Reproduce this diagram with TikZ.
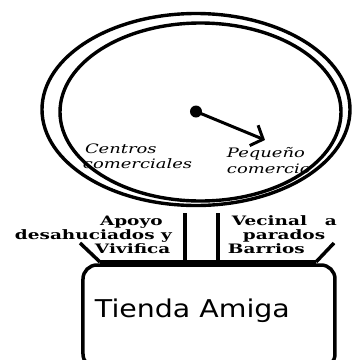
\documentclass[tikz,border=0pt]{standalone}
\usepackage{fontspec}
\usepackage{graphicx}
\usetikzlibrary{arrows.meta}
\newfontfamily\handfont{DejaVu Serif}
\newfontfamily\labelfont{DejaVu Serif}
\newfontfamily\titlefont{DejaVu Sans}
\newcommand{\cursivetxt}[1]{\scalebox{1.38}[1]{\handfont\itshape\fontsize{13}{15}\selectfont #1}}
\newcommand{\standtxt}[1]{\scalebox{1.42}[1]{\labelfont\bfseries\fontsize{13}{15}\selectfont #1}}
\newcommand{\titletxt}[1]{\scalebox{1.16}[1]{\titlefont\fontsize{24.5}{28}\selectfont #1}}
\tikzset{
  ring/.style={line width=3.4pt},
  pole/.style={line width=3.5pt},
  bar/.style={line width=4.5pt},
  txt/.style={anchor=base west, inner sep=0pt, outer sep=0pt},
  boxshape/.style={line width=3.5pt, rounded corners=14pt},
  pointer/.style={line width=3pt, -{Straight Barb[length=10pt,width=22pt]}}
}
\begin{document}
\begin{tikzpicture}[x=1pt,y=-1pt]
\useasboundingbox (0,0) rectangle (358,360);
\fill[white] (0,0) rectangle (358,360);
% ellipses
\draw[ring] (196,109.5) ellipse [x radius=154, y radius=96];
\draw[ring] (200.5,112) ellipse [x radius=140.5, y radius=89];
% pointer
\coordinate (hub) at (196,111.5);
\coordinate (tip) at (265,140);
\fill (hub) circle[radius=6];
\draw[pointer] (hub) -- (tip);
% texts in the dial
\node[txt] (c1) at (85,153) {\cursivetxt{Centros}};
\node[txt] (c2) at (83,168) {\cursivetxt{comerciales}};
\node[txt] (p1) at (227,157) {\cursivetxt{Pequeño}};
\node[txt] (p2) at (227,173) {\cursivetxt{comercio}};
% stand
\coordinate (pl1) at (185,213);
\coordinate (pl2) at (185,263);
\coordinate (pr1) at (218,213);
\coordinate (pr2) at (218,263);
\draw[pole] (pl1) -- (pl2);
\draw[pole] (pr1) -- (pr2);
\coordinate (bl) at (100,262);
\coordinate (br) at (316,262);
\coordinate (dl) at (80,243);
\coordinate (dr) at (334,243);
\draw[bar] (bl) -- (br);
\draw[pole] (bl) -- (dl);
\draw[pole] (br) -- (dr);
% stand labels
\node[txt] (a1) at (100,225) {\standtxt{Apoyo}};
\node[txt] (a2) at (15,239) {\standtxt{desahuciados y}};
\node[txt] (a3) at (95,253) {\standtxt{Vivifica}};
\node[txt] (v1) at (232,225) {\standtxt{Vecinal}};
\node[txt] (v1b) at (325,225) {\standtxt{a}};
\node[txt] (v2) at (243,239) {\standtxt{parados}};
\node[txt] (v3) at (228,253) {\standtxt{Barrios}};
% box
\draw[boxshape] (83,265) rectangle (335,368);
\node[txt] (tienda) at (95,317) {\titletxt{Tienda Amiga}};
\end{tikzpicture}
\end{document}
